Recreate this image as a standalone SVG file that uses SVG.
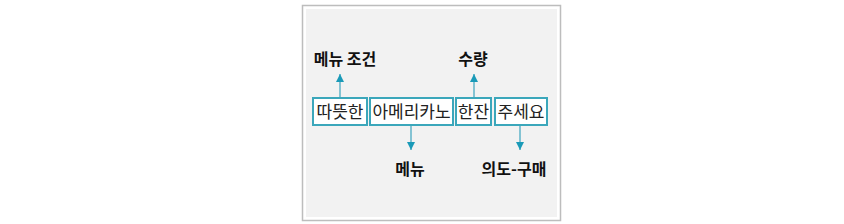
<svg xmlns="http://www.w3.org/2000/svg" width="844" height="224" viewBox="0 0 844 224">
<style>
.box{fill:#fff;stroke:#3ba7bb;stroke-width:2}
.bt{font-family:"Noto Sans CJK KR","Noto Sans",sans-serif;font-size:17px;fill:#222;text-anchor:middle}
.lb{font-family:"Noto Sans CJK KR","Noto Sans",sans-serif;font-size:16px;font-weight:bold;fill:#111;text-anchor:middle}
.ln{stroke:#5fb3c8;stroke-width:1.5;fill:none}
</style>
<defs>
<marker id="ah" viewBox="0 0 10 10" refX="10" refY="5" markerWidth="8" markerHeight="8" markerUnits="userSpaceOnUse" orient="auto">
<path d="M0,0 L10,5 L0,10 z" fill="#1a9ab8"/>
</marker>
</defs>
<rect x="302.5" y="5.5" width="258" height="215" fill="#fff" stroke="#bdbdbd" stroke-width="1.5"/>
<rect x="306" y="9" width="251" height="208" fill="#f2f2f2"/>
<g id="connectors">
<line class="ln" x1="340" y1="98" x2="340" y2="74" marker-end="url(#ah)"/>
<line class="ln" x1="474" y1="98" x2="474" y2="74" marker-end="url(#ah)"/>
<line class="ln" x1="411" y1="125" x2="411" y2="150" marker-end="url(#ah)"/>
<line class="ln" x1="520" y1="125" x2="520" y2="150" marker-end="url(#ah)"/>
</g>
<g id="n1"><rect class="box" x="313" y="98" width="54" height="27"/><text class="bt" x="340" y="118">따뜻한</text></g>
<g id="n2"><rect class="box" x="370" y="98" width="83" height="27"/><text class="bt" x="411.5" y="118">아메리카노</text></g>
<g id="n3"><rect class="box" x="456" y="98" width="35" height="27"/><text class="bt" x="473.5" y="118">한잔</text></g>
<g id="n4"><rect class="box" x="495" y="98" width="52" height="27"/><text class="bt" x="521" y="118">주세요</text></g>
<g id="l1"><text class="lb" x="345" y="65">메뉴 조건</text></g>
<g id="l2"><text class="lb" x="473" y="65">수량</text></g>
<g id="l3"><text class="lb" x="410" y="175">메뉴</text></g>
<g id="l4"><text class="lb" x="514" y="175">의도-구매</text></g>
</svg>
